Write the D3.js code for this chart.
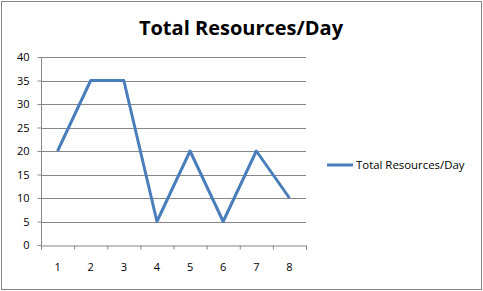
<!DOCTYPE html>
<html lang="en">
<head>
<meta charset="UTF-8">
<title>Total Resources/Day</title>
<script src="https://d3js.org/d3.v7.min.js"></script>
<style>
  body { margin: 0; background: #fff; }
  text { font-family: "Open Sans", "Liberation Sans", sans-serif; }
</style>
</head>
<body>
<svg width="483" height="291"></svg>
<script>
// data
var days = ["1", "2", "3", "4", "5", "6", "7", "8"];
var resources = [20, 35, 35, 5, 20, 5, 20, 10];
var yTicks = [0, 5, 10, 15, 20, 25, 30, 35, 40];
var seriesName = "Total Resources/Day";

var svg = d3.select("svg");
var margin = {top: 57, left: 41, right: 177, bottom: 46};
var width = 483 - margin.left - margin.right,
    height = 291 - margin.top - margin.bottom;

// outer frame
svg.append("rect")
    .attr("x", 1.5).attr("y", 1.5)
    .attr("width", 480).attr("height", 288)
    .attr("fill", "#fff").attr("stroke", "#868686");

// title
svg.append("text")
    .attr("x", 241).attr("y", 35)
    .attr("text-anchor", "middle")
    .attr("font-size", 20).attr("font-weight", "bold")
    .text("Total Resources/Day");

var g = svg.append("g").attr("transform", "translate(" + margin.left + "," + margin.top + ")");

var x = d3.scaleBand().domain(days).range([0, width]);
var y = d3.scaleLinear().domain([0, 40]).range([height, 0]);

// gridlines
g.selectAll(".grid").data(yTicks.slice(1)).enter().append("line")
    .attr("x1", 0).attr("x2", width)
    .attr("y1", function(d) { return Math.round(y(d)) + 0.5; })
    .attr("y2", function(d) { return Math.round(y(d)) + 0.5; })
    .attr("stroke", "#868686");

// y axis
var yAxis = g.append("g")
    .attr("transform", "translate(0.5,0)")
    .call(d3.axisLeft(y).tickValues(yTicks).tickSize(4).tickPadding(8));
// x axis with ticks at band edges
var xEdges = d3.scaleLinear().domain([0, days.length]).range([0, width]);
var xAxis = g.append("g")
    .attr("transform", "translate(0," + (Math.round(height) + 0.5) + ")")
    .call(d3.axisBottom(xEdges).ticks(days.length).tickSize(4).tickFormat(""));
g.append("g")
    .attr("transform", "translate(0," + height + ")")
    .selectAll("text").data(days).enter().append("text")
    .attr("x", function(d) { return x(d) + x.bandwidth() / 2; })
    .attr("y", 26)
    .attr("text-anchor", "middle")
    .attr("font-size", 11)
    .attr("fill", "#000")
    .text(function(d) { return d; });

[yAxis, xAxis].forEach(function(a) {
  a.select(".domain").attr("stroke", "#868686");
  a.selectAll(".tick line").attr("stroke", "#868686");
  a.selectAll("text").attr("font-size", 11).attr("fill", "#000")
      .attr("font-family", "\"Open Sans\", \"Liberation Sans\", sans-serif");
});
yAxis.select(".domain").attr("d", "M0," + height + "V0");

// line
var line = d3.line()
    .x(function(d, i) { return x(days[i]) + x.bandwidth() / 2; })
    .y(function(d) { return y(d); });
g.append("path")
    .datum(resources)
    .attr("d", line)
    .attr("fill", "none")
    .attr("stroke", "#4a7ebb")
    .attr("stroke-width", 3)
    .attr("stroke-linejoin", "round");

// legend
var legend = svg.append("g").attr("transform", "translate(327,165)");
legend.append("line").attr("x1", 0).attr("x2", 26).attr("y1", 0).attr("y2", 0)
    .attr("stroke", "#4a7ebb").attr("stroke-width", 3);
legend.append("text").attr("x", 29).attr("y", 4)
    .attr("font-size", 11.4).text(seriesName);
</script>
</body>
</html>
